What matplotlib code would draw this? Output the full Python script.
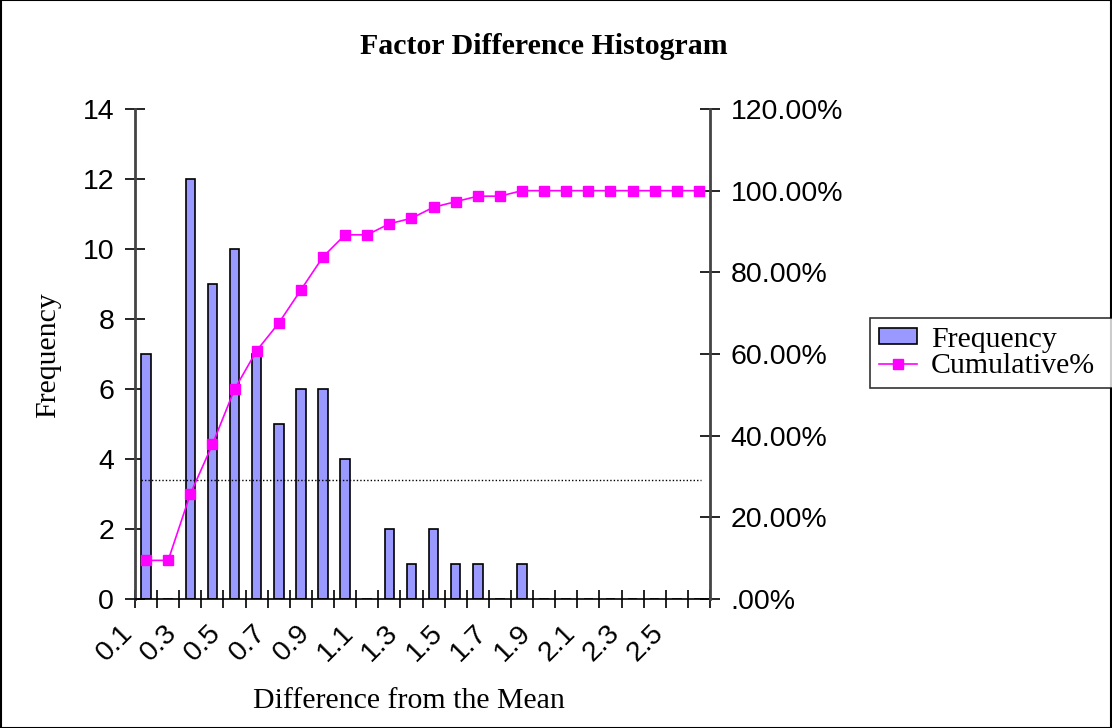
import numpy as np
import matplotlib
matplotlib.use("Agg")
import matplotlib.pyplot as plt
from matplotlib.patches import Rectangle, Patch
from matplotlib.lines import Line2D
from matplotlib.ticker import FuncFormatter
from matplotlib.transforms import ScaledTranslation

# Data
bins = ["0.1", "0.2", "0.3", "0.4", "0.5", "0.6", "0.7", "0.8", "0.9", "1.0",
        "1.1", "1.2", "1.3", "1.4", "1.5", "1.6", "1.7", "1.8", "1.9", "2.0",
        "2.1", "2.2", "2.3", "2.4", "2.5", "2.6"]
tick_labels = ["0.1", "0.3", "0.5", "0.7", "0.9", "1.1", "1.3", "1.5", "1.7",
               "1.9", "2.1", "2.3", "2.5"]
frequency = [7, 0, 12, 9, 10, 7, 5, 6, 6, 4, 0, 2, 1, 2, 1, 1, 0, 1,
             0, 0, 0, 0, 0, 0, 0, 0]
cumulative = [0.0946, 0.0946, 0.2568, 0.3784, 0.5135, 0.6081, 0.6757, 0.7568,
              0.8378, 0.8919, 0.8919, 0.9189, 0.9324, 0.9595, 0.9730, 0.9865,
              0.9865, 1.0, 1.0, 1.0, 1.0, 1.0, 1.0, 1.0, 1.0, 1.0]
ref_level = 3.4

serif = "Liberation Serif"
sans = "Liberation Sans"
tick_fs = 20.5

fig = plt.figure(figsize=(11.12, 7.28), dpi=100)
ax = fig.add_axes([135/1112, 1-599/728, 575/1112, 490/728])
ax2 = ax.twinx()

x = np.arange(len(bins))
ax.bar(x, frequency, width=0.43, color="#9999FF", edgecolor="black", linewidth=1.2, zorder=2)
ax.plot([x[0] - 0.25, x[-1] + 0.1], [ref_level, ref_level], color="black",
        linestyle=(0, (1, 1.5)), linewidth=1, zorder=3)
ax2.plot(x, cumulative, color="#FF00FF", linewidth=1.2, marker="s",
         markersize=7.5, markeredgecolor="#FF00FF")

ax.set_xlim(-0.5, len(bins) - 0.5)
ax.set_ylim(0, 14)
ax2.set_ylim(0, 1.2)
ax.set_yticks(range(0, 15, 2))
ax2.set_yticks(np.arange(0, 1.21, 0.2))
ax2.yaxis.set_major_formatter(FuncFormatter(
    lambda v, p: ".00%" if abs(v) < 1e-9 else f"{v*100:.2f}%"))

ax.set_xticks(x[::2])
ax.set_xticklabels(tick_labels, rotation=45, ha="right", fontfamily=sans, fontsize=tick_fs)
ax.set_xticks(np.arange(-0.5, len(bins), 1), minor=True)
ax.tick_params(axis="x", which="major", length=0, pad=15)
ax.tick_params(axis="x", which="minor", direction="inout", length=13, width=1.2)
for lab in ax.get_xticklabels():
    lab.set_transform(lab.get_transform() + ScaledTranslation(-0.08, 0, fig.dpi_scale_trans))

ax.tick_params(axis="y", direction="inout", length=14, width=1.2, pad=8, labelsize=tick_fs)
ax2.tick_params(axis="y", direction="inout", length=14, width=1.2, pad=8, labelsize=tick_fs)
for lab in ax.get_yticklabels() + ax2.get_yticklabels():
    lab.set_fontfamily(sans)

for a in (ax, ax2):
    a.spines["top"].set_visible(False)
ax.spines["right"].set_visible(False)
ax.spines["left"].set_color("#444444")
ax.spines["left"].set_linewidth(2)
ax2.spines["right"].set_color("#444444")
ax2.spines["right"].set_linewidth(2)
ax2.spines["left"].set_visible(False)
ax2.spines["bottom"].set_visible(False)
ax.spines["bottom"].set_linewidth(1.2)

ax.set_ylabel("Frequency", fontfamily=serif, fontsize=21.5, va="center")
ax.yaxis.set_label_coords(-0.151, 0.498)
ax.set_xlabel("Difference from the Mean", fontfamily=serif, fontsize=21.5, va="center")
ax.xaxis.set_label_coords(0.4765, -0.208)
fig.text(544/1112, 1-46/728, "Factor Difference Histogram", fontfamily=serif,
         fontsize=21.5, fontweight="bold", ha="center", va="center")

handles = [Patch(facecolor="#9999FF", edgecolor="black", linewidth=1.2),
           Line2D([], [], color="#FF00FF", marker="s", markersize=7.5, linewidth=1.2)]
leg = fig.legend(handles, ["Frequency", "Cumulative%"], loc="lower left",
                 bbox_to_anchor=(870/1112, 1-388/728, 0.25, 69/728), mode="expand",
                 prop={"family": serif, "size": 21.5}, frameon=True, fancybox=False,
                 edgecolor="black", borderpad=0.3, labelspacing=0.0,
                 handlelength=1.27, handleheight=0.45, handletextpad=0.47,
                 borderaxespad=0)
leg.get_frame().set_linewidth(1.2)

fig.patches.append(Rectangle((0.0005, 0.0005), 0.999, 0.999, transform=fig.transFigure,
                             fill=False, edgecolor="black", linewidth=1.5))

fig.savefig("out.png", dpi=100)
